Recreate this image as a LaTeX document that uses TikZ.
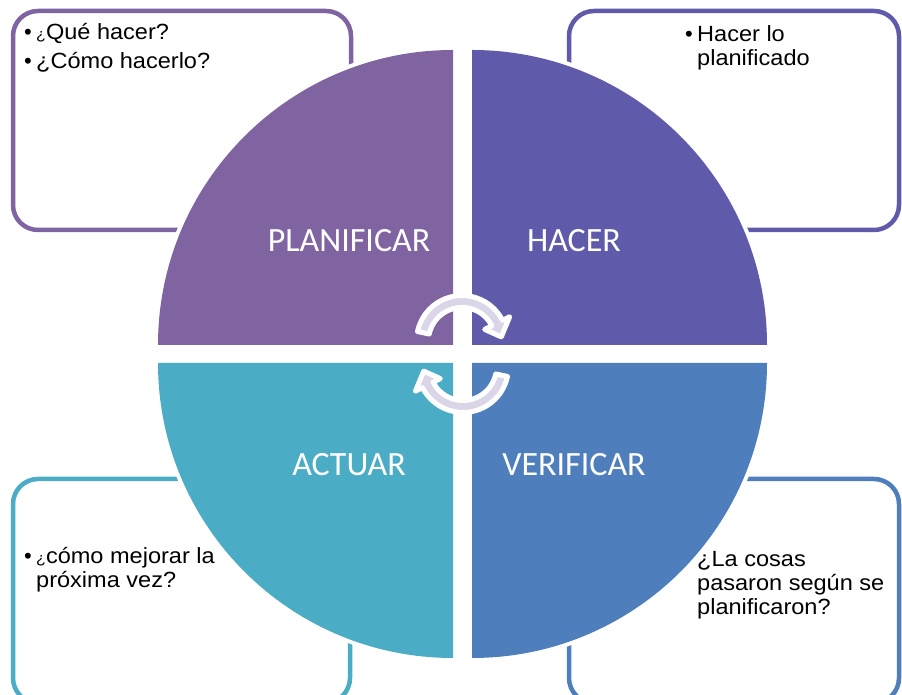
\documentclass[tikz,border=0pt]{standalone}
\usepackage{fontspec}
\setmainfont{Liberation Sans}
\newfontfamily\bodyfont[FakeStretch=1.07]{Liberation Sans}
\newfontfamily\labelfont{Carlito}

\definecolor{qplan}{HTML}{8064A2}
\definecolor{qhacer}{HTML}{5F5AAA}
\definecolor{qverif}{HTML}{4F7EBD}
\definecolor{qactuar}{HTML}{4BACC6}
\definecolor{cycfill}{HTML}{DAD6E8}

\begin{document}
\begin{tikzpicture}[x=1pt,y=1pt,
  box/.style={line width=4.5pt, rounded corners=25pt, fill=white},
  halo/.style={draw=white, line width=8pt, line join=round},
  qlabel/.style={font=\labelfont\fontsize{34}{40}\selectfont, text=white, inner sep=0pt, anchor=base},
  txt/.style={font=\bodyfont\fontsize{22}{24}\selectfont, inner sep=0pt, anchor=base west},
  bul/.style={font=\fontsize{22}{24}\selectfont, inner sep=0pt, anchor=base west},
  cyc/.style={fill=cycfill, draw=white, line width=5pt, line join=round},
  cycarrow/.pic={
    \path[cyc] (168:45.5) arc[start angle=168, end angle=27, radius=45.5]
      -- (27:53.5) -- (6:39.5) -- (27:25.5) -- (27:33.5)
      arc[start angle=27, end angle=168, radius=33.5] -- cycle;
  }]
\useasboundingbox (0,0) rectangle (902,695);
\clip (0,0) rectangle (902,695);

% note boxes behind the wheel
\draw[box, draw=qplan]   (13,465) rectangle (351,684);
\draw[box, draw=qhacer]  (569,465) rectangle (899,684);
\draw[box, draw=qactuar] (13,-8) rectangle (350,216);
\draw[box, draw=qverif]  (569,-8) rectangle (899,216);

% the four quarters of the wheel
\path[halo] (453,350) -- (158,350) arc[start angle=180, end angle=90, radius=295] -- cycle;
\fill[qplan] (453,350) -- (158,350) arc[start angle=180, end angle=90, radius=295] -- cycle;
\path[halo] (472,350) -- (472,645) arc[start angle=90, end angle=0, radius=295] -- cycle;
\fill[qhacer] (472,350) -- (472,645) arc[start angle=90, end angle=0, radius=295] -- cycle;
\path[halo] (472,332) -- (767,332) arc[start angle=0, end angle=-90, radius=295] -- cycle;
\fill[qverif] (472,332) -- (767,332) arc[start angle=0, end angle=-90, radius=295] -- cycle;
\path[halo] (453,332) -- (453,37) arc[start angle=270, end angle=180, radius=295] -- cycle;
\fill[qactuar] (453,332) -- (453,37) arc[start angle=270, end angle=180, radius=295] -- cycle;

% quarter labels
\node[qlabel] (planificar) at (349,443) {PLANIFICAR};
\node[qlabel] (hacer)      at (574,443) {HACER};
\node[qlabel] (actuar)     at (349,219) {ACTUAR};
\node[qlabel] (verificar)  at (574,219) {VERIFICAR};

% cycle arrows in the middle
\pic (toparrow) at (462,354) {cycarrow};
\pic[rotate=180] (botarrow) at (463,328) {cycarrow};

% notes: planificar
\node[bul] (b1) at (24,655.7) {•};
\node[txt] (t1) at (36,655.7) {{\fontsize{15}{15}\selectfont ¿}Qué hacer?};
\node[bul] (b2) at (24,626.7) {•};
\node[txt] (t2) at (36,626.7) {¿Cómo hacerlo?};

% notes: hacer
\node[bul] (b3) at (685,653.3) {•};
\node[txt] (t3) at (697,653.3) {Hacer lo};
\node[txt] (t4) at (697,629.3) {planificado};

% notes: actuar
\node[bul] (b4) at (24,131) {•};
\node[txt] (t5) at (36,131) {{\fontsize{15}{15}\selectfont ¿}cómo mejorar la};
\node[txt] (t6) at (36,107) {próxima vez?};

% notes: verificar
\node[txt] (t7) at (697,128.3) {¿La cosas};
\node[txt] (t8) at (697,104.3) {pasaron según se};
\node[txt] (t9) at (697,80) {planificaron?};
\end{tikzpicture}
\end{document}
